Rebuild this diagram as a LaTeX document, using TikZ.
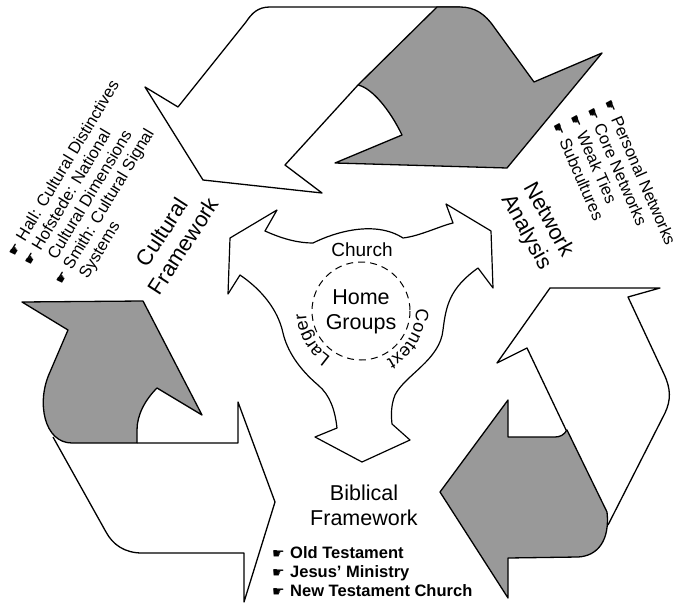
\documentclass[tikz,border=0pt]{standalone}
\usepackage{fontspec}
\setmainfont{Liberation Sans}
\newfontfamily\handfont{DejaVu Sans}
\usetikzlibrary{decorations.text}

\definecolor{tone}{gray}{0.6}
\newcommand\hand{\makebox[18pt][l]{\handfont\fontsize{14}{14}\selectfont ☛}}
\newcommand\ringfont{\fontsize{18}{20}\selectfont}

\tikzset{
  edge/.style={line width=1.3pt, line join=round},
  backface/.style={edge, fill=tone},
  hub/.style={line width=1.2pt, line join=round},
  listline/.style={anchor=base west, inner sep=0pt, font=\fontsize{16.5}{18}\selectfont},
  heading/.style={align=center, inner sep=0pt, font=\fontsize{22}{25.5}\selectfont},
}

\begin{document}
\begin{tikzpicture}[x=1pt, y=-1pt]
\useasboundingbox (0,0) rectangle (677,604);
\fill[white] (0,0) rectangle (677,604);

% ---- top arrow: front face pointing down-left, folded back face on the right
\draw[edge] (460,7) -- (270,7) .. controls (258,7) and (252,13) .. (246,22)
  -- (178,107) -- (145,87) -- (203,180) -- (322,193) -- (285,165) -- (358,85);
\draw[backface] (358,85) -- (437,7) -- (460,7) .. controls (475,7) and (485,14) .. (494,27)
  -- (534,82) -- (602,53) -- (507,168) -- (335,163) -- (402,135)
  .. controls (390,110) and (372,88) .. (358,85) -- cycle;

% ---- left arrow: back face on top, front face pointing right
\draw[edge] (137,443) -- (238,443) -- (238,402) -- (275,502) -- (244,602) -- (244,553)
  -- (142,553) .. controls (125,553) and (113,545) .. (106,532) -- (53,437);
\draw[backface] (22,302) -- (143,301) -- (202,415) -- (157,388)
  .. controls (145,400) and (137,415) .. (137,430) -- (137,443) -- (72,443)
  .. controls (44,443) and (36,402) .. (50,372) -- (68,330) -- cycle;

% ---- right arrow: front face pointing up, back face below
\draw[edge] (567,432) -- (527,348) -- (497,363) -- (550,288) -- (660,288) -- (628,297)
  -- (664,374) .. controls (671,389) and (671,400) .. (665,413) -- (608,525);
\draw[backface] (508,400) -- (440,492) -- (508,598) -- (508,558) -- (578,557)
  .. controls (598,556) and (610,540) .. (607,512) -- (567,430)
  .. controls (564,435) and (560,437) .. (555,437) -- (508,437) -- cycle;

% ---- three-pronged hub
\draw[hub] (240,275) -- (228,294) -- (230,238) -- (277,210) -- (265,231)
  .. controls (285,240) and (300,243) .. (313,243)
  .. controls (335,232) and (375,220) .. (403,238)
  .. controls (420,236) and (440,226) .. (453,223)
  -- (446,204) -- (491,231) -- (493,288) -- (478,268)
  .. controls (450,288) and (446,305) .. (443,330)
  .. controls (440,360) and (405,375) .. (395,395)
  .. controls (391,405) and (391,415) .. (392,424)
  -- (410,440) -- (362,462) -- (315,437) -- (337,428)
  .. controls (335,410) and (330,395) .. (318,385)
  .. controls (298,368) and (287,350) .. (283,333)
  .. controls (278,310) and (262,290) .. (240,275) -- cycle;

\coordinate (hubc) at (361,311);
\draw[line width=1pt, dash pattern=on 7pt off 5pt] (hubc) circle[radius=49];
\node[inner sep=0pt, align=center, font=\fontsize{21.5}{25}\selectfont] (home) at (361,312) {Home\\Groups};
\node[inner sep=0pt, font=\fontsize{19}{20}\selectfont] (church) at (362,250) {Church};
\path[decorate, decoration={text along path, text={|\ringfont|Context}, text align=center}]
  (hubc) ++(-20:55) arc[start angle=-20, end angle=80, radius=55];
\path[decorate, decoration={text along path, text={|\ringfont|Larger}, text align=center}]
  (hubc) ++(100:55) arc[start angle=100, end angle=200, radius=55];

% ---- headings
\node[heading, rotate=57] (cultural) at (172.5,239) {Cultural\\Framework};
\node[heading, rotate=-61] (network) at (537,226) {Network\\Analysis};
\node[heading, font=\fontsize{21.5}{25}\selectfont] (biblical) at (364,505) {Biblical\\Framework};

% ---- cultural framework sources
\node[listline, rotate=59] (hall) at (15.6,257.7) {\hand Hall: Cultural Distinctives};
\node[listline, rotate=59] (hofstede) at (31.3,267.1) {\hand Hofstede: National};
\node[listline, rotate=59] (hofstede2) at (47.0,276.5) {\hspace*{18pt}Cultural Dimensions};
\node[listline, rotate=59] (smith) at (62.6,286.0) {\hand Smith: Cultural Signal};
\node[listline, rotate=59] (smith2) at (78.3,295.4) {\hspace*{18pt}Systems};

% ---- network analysis topics
\begin{scope}[every node/.append style={font=\fontsize{16}{18}\selectfont}]
\node[listline, rotate=-66.5] (personal) at (603.5,102.5) {\hand Personal Networks};
\node[listline, rotate=-66.5] (core) at (586.3,110.0) {\hand Core Networks};
\node[listline, rotate=-66.5] (weak) at (569.0,117.5) {\hand Weak Ties};
\node[listline, rotate=-66.5] (sub) at (551.8,125.0) {\hand Subcultures};
\end{scope}

% ---- biblical framework sources
\node[listline, font=\fontsize{16.5}{18}\selectfont\bfseries] (ot) at (272,558) {\hand Old Testament};
\node[listline, font=\fontsize{16.5}{18}\selectfont\bfseries] (jesus) at (272,577) {\hand Jesus' Ministry};
\node[listline, font=\fontsize{16.5}{18}\selectfont\bfseries] (nt) at (272,596) {\hand New Testament Church};
\end{tikzpicture}
\end{document}
